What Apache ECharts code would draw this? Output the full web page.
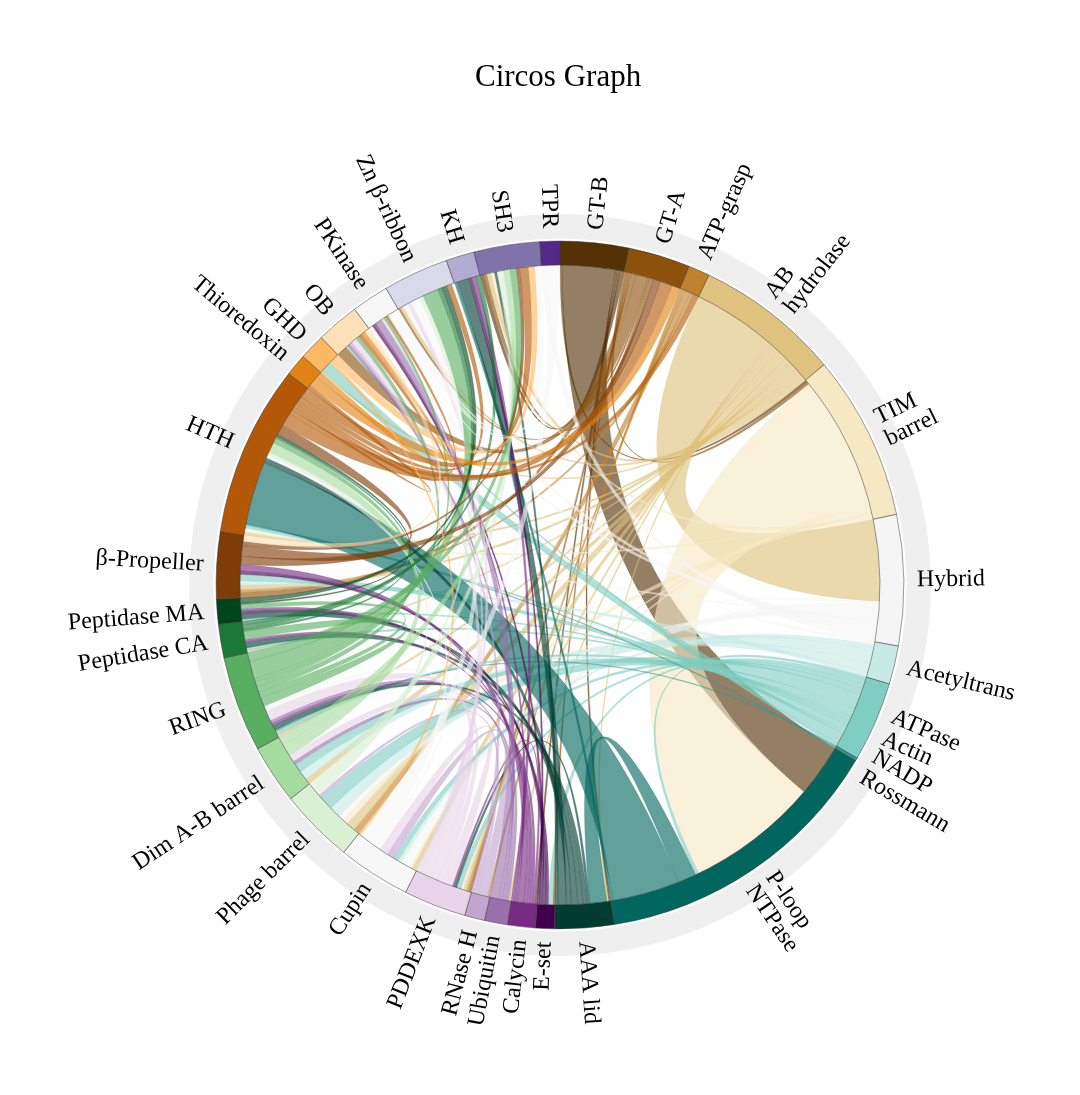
<!DOCTYPE html>
<html>
<head>
<meta charset="utf-8">
<script src="https://cdn.jsdelivr.net/npm/echarts@6/dist/echarts.min.js"></script>
<style>html,body{margin:0;padding:0;background:#fff}#chart{width:1080px;height:1095px}</style>
</head>
<body>
<div id="chart"></div>
<script>
// ---------- data ----------
const nodeNames = ['GT-B','GT-A','ATP-grasp','AB hydrolase','TIM barrel','Hybrid','Acetyltrans','ATPase Actin','NADP Rossmann','P-loop NTPase','AAA lid',
  'E-set','Calycin','Ubiquitin','RNase H','PDDEXK','Cupin','Phage barrel','Dim A-B barrel','RING','Peptidase CA','Peptidase MA',
  'β-Propeller','HTH','Thioredoxin','GHD','OB','PKinase','Zn β-ribbon','KH','SH3','TPR'];
const nodeLabels = ['GT-B','GT-A','ATP-grasp','AB\nhydrolase','TIM\nbarrel','Hybrid','Acetyltrans','ATPase\nActin','NADP\nRossmann','P-loop\nNTPase','AAA lid',
  'E-set','Calycin','Ubiquitin','RNase H','PDDEXK','Cupin','Phage barrel','Dim A-B barrel','RING','Peptidase CA','Peptidase MA',
  'β-Propeller','HTH','Thioredoxin','GHD','OB','PKinase','Zn β-ribbon','KH','SH3','TPR'];
const nodeColors = ['#543005','#8c510a','#bf812d','#dfc27d','#f6e8c3','#f5f5f5','#c7eae5','#80cdc1','#35978f','#01665e','#003c30',
  '#40004b','#762a83','#9970ab','#c2a5cf','#e7d4e8','#f7f7f7','#d9f0d3','#a6dba0','#5aae61','#1b7837','#00441b',
  '#7f3b08','#b35806','#e08214','#fdb863','#fee0b6','#f7f7f7','#d8daeb','#b2abd2','#8073ac','#542788'];
const nodeSizes = [11.6,10.45,3.65,24.5,28,22.1,6.5,13.5,0.5,50.2,10,
  3.2,4.7,3.9,3.4,10.6,12.3,12.6,10,16.2,5.7,4.2,
  11.3,29,3.7,4.4,7.3,6.3,11.1,4.8,11.15,3.35];
// [source, target, value]
const flows = [
  ['GT-B','TIM barrel',0.4],['GT-B','P-loop NTPase',9.6],['GT-B','AAA lid',0.4],['GT-B','Calycin',0.4],['GT-B','SH3',0.8],
  ['GT-A','TIM barrel',0.5],['GT-A','E-set',0.4],['GT-A','PDDEXK',0.5],['GT-A','β-Propeller',1.0],['GT-A','OB',2.4],['GT-A','Zn β-ribbon',0.4],['GT-A','SH3',0.8],
  ['ATP-grasp','RNase H',0.4],['ATP-grasp','PDDEXK',0.5],['ATP-grasp','Phage barrel',1.2],['ATP-grasp','β-Propeller',0.6],
  ['AB hydrolase','Hybrid',15],['AB hydrolase','AAA lid',0.3],['AB hydrolase','Ubiquitin',0.4],['AB hydrolase','PDDEXK',0.6],['AB hydrolase','Cupin',1.0],
  ['AB hydrolase','Phage barrel',1.8],['AB hydrolase','Dim A-B barrel',1.0],['AB hydrolase','RING',0.5],['AB hydrolase','Peptidase CA',0.4],
  ['AB hydrolase','β-Propeller',0.8],['AB hydrolase','HTH',0.6],['AB hydrolase','GHD',0.4],['AB hydrolase','Zn β-ribbon',0.6],['AB hydrolase','SH3',1.0],
  ['TIM barrel','P-loop NTPase',24],['TIM barrel','PDDEXK',0.5],['TIM barrel','Cupin',0.5],['TIM barrel','Phage barrel',1.2],['TIM barrel','HTH',0.4],['TIM barrel','SH3',0.8],
  ['Hybrid','Acetyltrans',0.5],['Hybrid','Cupin',2.0],['Hybrid','Phage barrel',1.0],['Hybrid','HTH',0.4],['Hybrid','PKinase',1.0],['Hybrid','Zn β-ribbon',1.0],['Hybrid','TPR',1.5],
  ['Acetyltrans','Cupin',0.8],['Acetyltrans','Phage barrel',2.2],['Acetyltrans','Dim A-B barrel',1.5],['Acetyltrans','β-Propeller',0.8],
  ['ATPase Actin','P-loop NTPase',0.6],['ATPase Actin','E-set',0.8],['ATPase Actin','PDDEXK',0.8],['ATPase Actin','Cupin',1.0],['ATPase Actin','Phage barrel',2.9],
  ['ATPase Actin','Dim A-B barrel',1.5],['ATPase Actin','RING',0.6],['ATPase Actin','Peptidase CA',0.5],['ATPase Actin','Peptidase MA',0.5],
  ['ATPase Actin','β-Propeller',1.2],['ATPase Actin','HTH',0.6],['ATPase Actin','GHD',2.0],['ATPase Actin','OB',0.5],
  ['NADP Rossmann','RING',0.25],['NADP Rossmann','HTH',0.25],
  ['P-loop NTPase','AAA lid',3.3],['P-loop NTPase','HTH',12.2],['P-loop NTPase','KH',0.5],
  ['AAA lid','PDDEXK',0.5],['AAA lid','RING',0.8],['AAA lid','Peptidase CA',1.0],['AAA lid','Peptidase MA',1.2],['AAA lid','HTH',1.0],['AAA lid','KH',1.6],['AAA lid','SH3',0.6],
  ['E-set','Peptidase MA',0.5],['E-set','β-Propeller',0.6],['E-set','PKinase',0.5],['E-set','KH',0.4],
  ['Calycin','PDDEXK',0.4],['Calycin','RING',0.5],['Calycin','Peptidase CA',0.5],['Calycin','Peptidase MA',0.6],['Calycin','β-Propeller',1.2],
  ['Calycin','PKinase',0.5],['Calycin','KH',0.6],
  ['Ubiquitin','Dim A-B barrel',0.6],['Ubiquitin','RING',0.5],['Ubiquitin','OB',0.6],['Ubiquitin','PKinase',1.6],
  ['RNase H','Cupin',1.6],['RNase H','Phage barrel',0.6],['RNase H','OB',0.6],
  ['PDDEXK','Cupin',1.8],['PDDEXK','Dim A-B barrel',1.2],['PDDEXK','RING',1.8],['PDDEXK','OB',1.2],['PDDEXK','PKinase',0.6],['PDDEXK','Zn β-ribbon',0.7],
  ['Cupin','RING',0.8],['Cupin','HTH',0.6],['Cupin','Zn β-ribbon',1.7],['Cupin','TPR',1.8],
  ['Phage barrel','HTH',0.6],['Phage barrel','Zn β-ribbon',0.8],['Phage barrel','SH3',1.5],
  ['Dim A-B barrel','HTH',2.0],['Dim A-B barrel','SH3',1.5],
  ['RING','Peptidase CA',1.5],['RING','Peptidase MA',1.0],['RING','HTH',1.0],['RING','OB',0.8],['RING','PKinase',0.6],['RING','Zn β-ribbon',3.0],['RING','SH3',1.5],
  ['Peptidase CA','HTH',0.4],['Peptidase CA','Zn β-ribbon',0.8],['Peptidase CA','KH',0.6],
  ['Peptidase MA','HTH',0.4],['Peptidase MA','Zn β-ribbon',1.0],
  ['β-Propeller','GT-A',1.5],['β-Propeller','HTH',2.0],['β-Propeller','SH3',0.8],
  ['HTH','GT-A',2.5],['HTH','ATP-grasp',1.0],['HTH','Thioredoxin',0.6],['HTH','OB',0.8],['HTH','PKinase',0.6],['HTH','Zn β-ribbon',1.0],['HTH','SH3',2.0],
  ['Thioredoxin','GT-A',1.6],['Thioredoxin','OB',0.9],
  ['GHD','Cupin',0.5],['GHD','SH3',1.5],
  ['OB','β-Propeller',1.1],
  ['PKinase','Zn β-ribbon',0.5],['PKinase','SH3',1.5],['PKinase','TPR',0.8]
];
const titleText = 'Circos Graph';

// ---------- layout (value space of the angle axis) ----------
const N = nodeNames.length;
const idx = {}; nodeNames.forEach((n, i) => idx[n] = i);
const nodeStart = []; let total = 0;
nodeSizes.forEach((s, i) => { nodeStart[i] = total; total += s; });
const links = flows.map(f => ({ s: idx[f[0]], t: idx[f[1]], v: f[2] }));
const nodeSum = new Array(N).fill(0);
links.forEach(l => { nodeSum[l.s] += l.v; nodeSum[l.t] += l.v; });
const order = links.map((_, k) => k).sort((a, b) => (links[a].s - links[b].s) || (links[a].t - links[b].t));
const cursor = nodeStart.slice();
order.forEach(k => {
  const l = links[k];
  const ws = l.v * nodeSizes[l.s] / nodeSum[l.s];
  l.a0 = cursor[l.s]; l.a1 = l.a0 + ws; cursor[l.s] = l.a1;
  const wt = l.v * nodeSizes[l.t] / nodeSum[l.t];
  l.b0 = cursor[l.t]; l.b1 = l.b0 + wt; cursor[l.t] = l.b1;
});
const orderedLinks = order.map(k => links[k]);

const R_IN = 0.8625, R_OUT = 0.927, R_RING0 = 0.934, R_LABEL = 0.962;
const FONT = "'Liberation Serif', 'Times New Roman', serif";

function rgba(hex, a) {
  const n = parseInt(hex.slice(1), 16);
  return 'rgba(' + ((n >> 16) & 255) + ',' + ((n >> 8) & 255) + ',' + (n & 255) + ',' + a + ')';
}

const chart = echarts.init(document.getElementById('chart'));
chart.setOption({
  animation: false,
  backgroundColor: '#ffffff',
  title: {
    text: titleText, left: 475, top: 62, padding: 0,
    textStyle: { fontFamily: FONT, fontSize: 31, fontWeight: 'normal', color: '#000' }
  },
  polar: { center: [560, 585], radius: 371 },
  angleAxis: { type: 'value', min: 0, max: total, startAngle: 90, clockwise: true, show: false },
  radiusAxis: { type: 'value', min: 0, max: 1, show: false },
  series: [
    { // outer grey band
      type: 'custom', coordinateSystem: 'polar', silent: true, z: 1,
      data: [[1, 0]],
      renderItem: function (params, api) {
        const c = api.coord([0, 0]);
        const p0 = api.coord([R_RING0, 0]), p1 = api.coord([1, 0]);
        return { type: 'sector', shape: { cx: c[0], cy: c[1], r0: Math.hypot(p0[0]-c[0], p0[1]-c[1]), r: Math.hypot(p1[0]-c[0], p1[1]-c[1]), startAngle: 0, endAngle: Math.PI * 2 },
          style: { fill: '#efefef' } };
      }
    },
    { // ribbons
      type: 'custom', coordinateSystem: 'polar', silent: true, z: 2,
      data: orderedLinks.map(l => [R_IN, l.a0]),
      renderItem: function (params, api) {
        const l = orderedLinks[params.dataIndex];
        const c = api.coord([0, 0]);
        const P = a => api.coord([R_IN, a]);
        const p0 = P(l.a0), p1 = P(l.a1), q0 = P(l.b0), q1 = P(l.b1);
        const r = Math.hypot(p0[0]-c[0], p0[1]-c[1]);
        const lg = w => (w > total / 2 ? 1 : 0);
        const d = 'M' + p0[0] + ' ' + p0[1] +
          ' A' + r + ' ' + r + ' 0 ' + lg(l.a1 - l.a0) + ' 1 ' + p1[0] + ' ' + p1[1] +
          ' Q' + c[0] + ' ' + c[1] + ' ' + q0[0] + ' ' + q0[1] +
          ' A' + r + ' ' + r + ' 0 ' + lg(l.b1 - l.b0) + ' 1 ' + q1[0] + ' ' + q1[1] +
          ' Q' + c[0] + ' ' + c[1] + ' ' + p0[0] + ' ' + p0[1] + ' Z';
        const col = nodeColors[l.s];
        return { type: 'path', shape: { pathData: d },
          style: { fill: rgba(col, 0.62), stroke: rgba(col, 0.7), lineWidth: 0.3 } };
      }
    },
    { // node arcs
      type: 'custom', coordinateSystem: 'polar', silent: true, z: 3,
      data: nodeNames.map((n, i) => [R_OUT, nodeStart[i]]),
      renderItem: function (params, api) {
        const i = params.dataIndex;
        const c = api.coord([0, 0]);
        const ang = a => { const p = api.coord([1, a]); return Math.atan2(p[1]-c[1], p[0]-c[0]); };
        const rad = rv => { const p = api.coord([rv, 0]); return Math.hypot(p[0]-c[0], p[1]-c[1]); };
        let sa = ang(nodeStart[i]), ea = ang(nodeStart[i] + nodeSizes[i]);
        while (ea <= sa) ea += Math.PI * 2;
        return { type: 'sector', shape: { cx: c[0], cy: c[1], r0: rad(R_IN), r: rad(R_OUT), startAngle: sa, endAngle: ea, clockwise: true },
          style: { fill: nodeColors[i], stroke: '#3a3a3a', lineWidth: 0.5 } };
      }
    },
    { // labels
      type: 'custom', coordinateSystem: 'polar', silent: true, z: 4,
      data: nodeNames.map((n, i) => [R_LABEL, nodeStart[i] + nodeSizes[i] / 2]),
      renderItem: function (params, api) {
        const i = params.dataIndex;
        const mid = nodeStart[i] + nodeSizes[i] / 2;
        const p = api.coord([R_LABEL, mid]);
        const deg = mid / total * 360;
        const right = deg < 180;
        const rot = (right ? 90 - deg : 270 - deg) * Math.PI / 180;
        return { type: 'text', x: p[0], y: p[1], rotation: rot,
          style: { text: nodeLabels[i], x: 0, y: 0, fill: '#000', fontSize: 24, fontFamily: FONT,
            align: right ? 'left' : 'right', verticalAlign: 'middle', lineHeight: 24 } };
      }
    }
  ]
});
</script>
</body>
</html>
